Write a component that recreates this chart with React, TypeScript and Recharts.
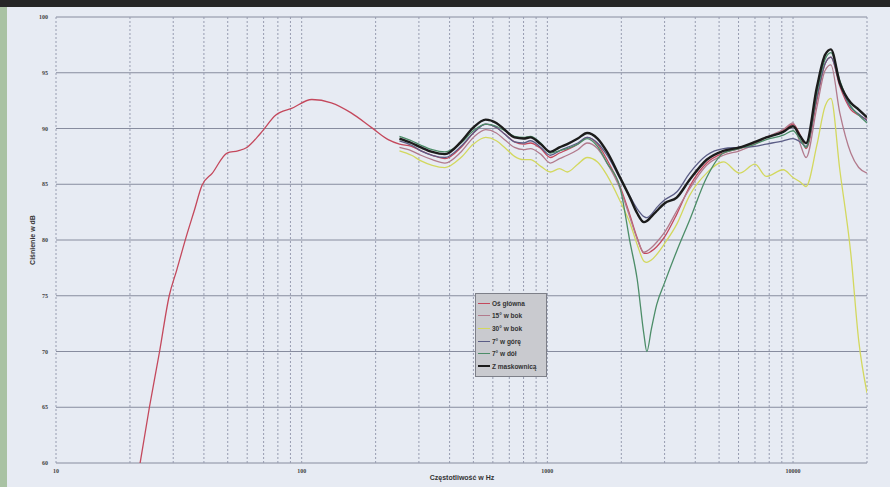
import React from "react";
import {
  LineChart,
  Line,
  XAxis,
  YAxis,
  CartesianGrid,
  Legend,
} from "recharts";

// red low-frequency part (main axis only)
const FREQ_LOW = [22, 24, 26.4, 28.9, 31, 33.9, 36.5, 39.3, 43.3, 49.7, 55, 59.8, 68.2, 78.5, 91, 110, 132, 159, 192, 225];
const OS_GLOWNA_LOW = [60, 65, 70, 75, 77.3, 80.3, 82.6, 84.9, 86.0, 87.8, 88.0, 88.3, 89.6, 91.2, 91.8, 92.6, 92.3, 91.4, 90.1, 89.0];

// all six curves from 250 Hz up
const FREQ_HIGH = [250, 280, 306, 340, 383, 445, 500, 561, 620, 670, 735, 800, 853, 940, 1028, 1120, 1205, 1330, 1452, 1600, 1750, 1977, 2170, 2320, 2473, 2540, 2650, 2786, 3004, 3360, 3795, 4450, 5210, 6050, 7000, 7780, 9120, 10000, 10700, 11300, 12500, 13500, 14260, 15500, 17180, 18500, 20000];

const OS_GLOWNA = [88.6, 88.4, 88.0, 87.6, 87.3, 88.3, 89.6, 90.4, 90.1, 89.5, 88.8, 88.6, 88.7, 88.2, 87.4, 87.8, 88.1, 88.6, 89.2, 88.6, 87.2, 84.8, 82.2, 80.2, 78.8, 78.8, 79.0, 79.4, 80.3, 82.3, 84.8, 86.9, 87.8, 88.2, 88.7, 89.2, 89.8, 90.4, 89.4, 88.2, 92.5, 95.8, 96.4, 93.8, 91.7, 91.2, 90.8];
const BOK_15 = [88.3, 88.0, 87.6, 87.2, 86.9, 87.9, 89.2, 89.9, 89.6, 89.0, 88.3, 88.1, 88.2, 87.7, 86.9, 87.3, 87.6, 88.1, 88.7, 88.2, 86.9, 84.6, 82.0, 80.1, 78.9, 79.0, 79.3, 79.8, 80.7, 82.6, 84.6, 86.7, 87.6, 88.0, 88.6, 89.2, 89.9, 90.5, 88.6, 87.4, 91.9, 95.2, 95.7, 91.4, 87.8, 86.5, 86.0];
const BOK_30 = [88.0, 87.6, 87.1, 86.7, 86.5, 87.4, 88.6, 89.2, 88.9, 88.3, 87.5, 87.2, 87.2, 86.6, 86.1, 86.4, 86.1, 86.8, 87.4, 87.0, 85.8, 83.5, 81.5, 79.6, 78.1, 78.0, 78.2, 78.7, 79.7, 81.4, 84.0, 86.0, 87.0, 86.0, 86.8, 85.7, 86.3, 85.6, 85.2, 84.8, 88.5, 92.0, 92.7, 86.3, 78.8, 71.0, 66.3];
const GORA_7 = [88.9, 88.5, 88.0, 87.6, 87.4, 88.4, 89.6, 90.4, 90.1, 89.5, 88.8, 88.7, 88.9, 88.3, 87.6, 88.0, 88.3, 88.7, 89.2, 88.7, 87.6, 85.5, 83.9, 82.8, 82.1, 82.0, 82.3, 82.9, 83.6, 84.3, 86.0, 87.6, 88.2, 88.3, 88.4, 88.6, 88.9, 89.1, 88.8, 88.4, 92.8, 95.8, 96.4, 94.0, 91.9, 91.3, 90.7];
const DOL_7 = [89.3, 88.9, 88.5, 88.1, 87.9, 88.7, 89.8, 90.4, 90.2, 89.8, 89.3, 89.2, 89.3, 88.7, 87.8, 88.0, 88.2, 88.6, 89.1, 88.4, 86.9, 84.7, 79.8, 76.5, 71.5, 70.0, 72.0, 74.2, 76.2, 79.0, 81.8, 85.6, 87.8, 88.2, 88.6, 89.0, 89.4, 89.8, 89.0, 88.3, 93.2, 96.2, 96.8, 94.3, 92.0, 91.2, 90.5];
const MASKOWNICA = [89.1, 88.7, 88.3, 87.9, 87.7, 88.8, 90.1, 90.8, 90.5, 89.9, 89.2, 89.1, 89.2, 88.6, 87.9, 88.3, 88.6, 89.1, 89.6, 89.1, 87.9, 85.6, 83.8, 82.4, 81.6, 81.7, 82.1, 82.6, 83.3, 83.8, 85.4, 87.2, 88.0, 88.3, 88.8, 89.2, 89.7, 90.2, 89.3, 88.7, 93.7, 96.6, 97.1, 94.1, 92.3, 91.7, 91.0];

const X_TICKS = [10, 20, 30, 40, 50, 60, 70, 80, 90, 100, 200, 300, 400, 500, 600, 700, 800, 900, 1000, 2000, 3000, 4000, 5000, 6000, 7000, 8000, 9000, 10000, 20000];
const X_LABELS = [10, 100, 1000, 10000];
const Y_TICKS = [60, 65, 70, 75, 80, 85, 90, 95, 100];

const SERIES = [
  { key: "osGlowna", name: "Oś główna", color: "#c4485c", width: 1.3 },
  { key: "bok15", name: "15° w bok", color: "#b27a8c", width: 1.3 },
  { key: "bok30", name: "30° w bok", color: "#d3d85e", width: 1.3 },
  { key: "gora7", name: "7° w górę", color: "#5b5d86", width: 1.3 },
  { key: "dol7", name: "7° w dół", color: "#4c8d68", width: 1.3 },
  { key: "maskownica", name: "Z maskownicą", color: "#1c1c1c", width: 2.4 },
];

const pad = FREQ_LOW.map(() => null);
const FREQS = [...FREQ_LOW, ...FREQ_HIGH];
const cols: Record<string, (number | null)[]> = {
  osGlowna: [...OS_GLOWNA_LOW, ...OS_GLOWNA],
  bok15: [...pad, ...BOK_15],
  bok30: [...pad, ...BOK_30],
  gora7: [...pad, ...GORA_7],
  dol7: [...pad, ...DOL_7],
  maskownica: [...pad, ...MASKOWNICA],
};

const data = FREQS.map((f, i) => {
  const row: Record<string, number | null> = { f };
  SERIES.forEach((s) => {
    row[s.key] = cols[s.key][i];
  });
  return row;
});

const renderLegend = () => (
  <div
    style={{
      background: "#c9cacf",
      border: "1px solid #7d7f88",
      width: 72,
      padding: "3px 2px",
      boxSizing: "border-box",
      fontFamily: "Liberation Sans, Arial, sans-serif",
      fontSize: 6.5,
      fontWeight: "bold",
      color: "#333",
      textAlign: "left",
    }}
  >
    {SERIES.map((s) => (
      <div key={s.key} style={{ display: "flex", alignItems: "center", height: 12.6 }}>
        <span
          style={{
            display: "inline-block",
            width: 12,
            height: s.key === "maskownica" ? 2 : 1,
            background: s.color,
            marginRight: 2,
          }}
        />
        <span>{s.name}</span>
      </div>
    ))}
  </div>
);

export default function App() {
  return (
    <div
      style={{
        position: "fixed",
        left: 0,
        top: 0,
        width: 890,
        height: 487,
        background: "#e7ebf3",
        overflow: "hidden",
      }}
    >
      <div style={{ position: "absolute", left: 0, top: 0, width: 890, height: 7, background: "#262626" }} />
      <div style={{ position: "absolute", left: 0, top: 7, width: 7, height: 480, background: "#a9c2a3" }} />

      <LineChart
        width={890}
        height={487}
        data={data}
        margin={{ top: 17, right: 23, left: 36, bottom: 10 }}
      >
        <CartesianGrid vertical={false} stroke="#878c9e" />
        <CartesianGrid horizontal={false} stroke="#979cb0" strokeDasharray="2 2" />

        <XAxis
          dataKey="f"
          type="number"
          scale="log"
          domain={[10, 20000]}
          ticks={X_TICKS}
          interval={0}
          allowDataOverflow
          height={14}
          axisLine={false}
          tickLine={false}
          tickSize={4}
          tickFormatter={(v: number) => (X_LABELS.includes(v) ? String(v) : "")}
          tick={{ fontSize: 6, fontWeight: "bold", fill: "#444" }}
        />
        <YAxis
          type="number"
          domain={[60, 100]}
          ticks={Y_TICKS}
          interval={0}
          width={20}
          axisLine={false}
          tickLine={false}
          tickSize={6}
          tickMargin={2}
          tick={{ fontSize: 6, fontWeight: "bold", fill: "#444" }}
        />

        <Legend
          layout="horizontal"
          verticalAlign="middle"
          align="center"
          wrapperStyle={{ left: 475, top: 293, width: 72 }}
          content={renderLegend}
        />

        {SERIES.map((s) => (
          <Line
            key={s.key}
            type="monotone"
            dataKey={s.key}
            name={s.name}
            stroke={s.color}
            strokeWidth={s.width}
            dot={false}
            isAnimationActive={false}
          />
        ))}
      </LineChart>

      <div
        style={{
          position: "absolute",
          left: 32,
          top: 240,
          transform: "translate(-50%, -50%) rotate(-90deg)",
          fontFamily: "Liberation Sans, Arial, sans-serif",
          fontSize: 7,
          fontWeight: "bold",
          color: "#333",
          whiteSpace: "nowrap",
        }}
      >
        Ciśnienie w dB
      </div>
      <div
        style={{
          position: "absolute",
          left: 462,
          top: 477,
          transform: "translate(-50%, -50%)",
          fontFamily: "Liberation Sans, Arial, sans-serif",
          fontSize: 7,
          fontWeight: "bold",
          color: "#333",
          whiteSpace: "nowrap",
        }}
      >
        Częstotliwość w Hz
      </div>
    </div>
  );
}
